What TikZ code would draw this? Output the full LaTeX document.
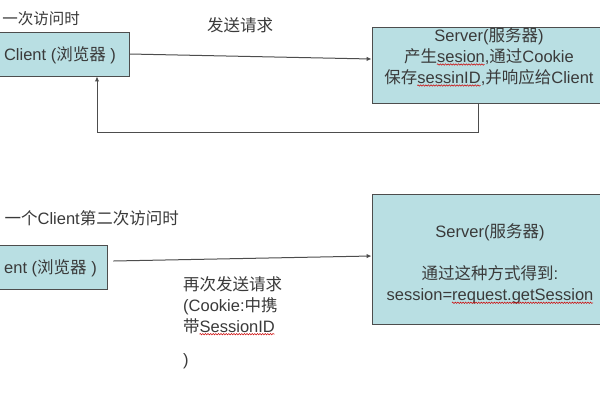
\documentclass[tikz,border=0pt]{standalone}
\usepackage{fontspec}
\setmainfont{Liberation Sans}
\newfontfamily\cjk{Noto Sans CJK SC}
\usetikzlibrary{arrows.meta,decorations.pathmorphing}
\definecolor{boxfill}{HTML}{B9DFE3}
\definecolor{ink}{HTML}{3A3A3A}
\definecolor{edge}{HTML}{4D4D4D}
\newsavebox\spellbox
\newcommand\spellmark[1]{\sbox\spellbox{#1}\usebox\spellbox\llap{\raisebox{-3pt}{\tikz[x=1pt,y=1pt]\draw[red!80!black,line width=0.5pt,decorate,decoration={snake,amplitude=0.7pt,segment length=2.6pt}] (0,0)--(\the\wd\spellbox,0);}}}
\begin{document}
\begin{tikzpicture}[x=1pt,y=-1pt,
  box/.style={draw=edge,line width=0.9pt,fill=boxfill,inner sep=0pt},
  txt/.style={text=ink,font=\fontsize{16.5}{21}\selectfont,inner sep=0pt},
  head/.style={text=ink,font=\fontsize{15.5}{20}\selectfont,inner sep=0pt},
  conn/.style={draw=edge,line width=1pt},
  tip/.style={-{Latex[length=5pt,width=4.5pt]}}]
\clip (0,0) rectangle (600,400);
\fill[white] (0,0) rectangle (600,400);
% first visit
\node[head,anchor=east] (h1) at (80,19) {{\cjk 一次访问时}};
\node[box,minimum width=140pt,minimum height=44pt] (c1) at (59,54) {};
\node[txt] (c1t) at (60,55) {Client ({\cjk 浏览器} )};
\node[box,minimum width=234pt,minimum height=76pt] (s1) at (489,65) {};
\node[txt,align=center] (s1t) at (489,57) {Server({\cjk 服务器})\\{\cjk 产生}\spellmark{sesion},{\cjk 通过}Cookie\\{\cjk 保存}\spellmark{sessinID},{\cjk 并响应给}Client};
\node[txt] (l1) at (240,25) {{\cjk 发送请求}};
\draw[conn,tip] (c1.east) -- ([yshift=6pt]s1.west);
\coordinate (r1) at (478,132);
\coordinate (r2) at (97,132);
\draw[conn,tip] (s1.south -| r1) -- (r1) -- (r2) -- (c1.south -| r2);
% second visit
\node[txt,anchor=east] (h2) at (179,218) {{\cjk 一个}Client{\cjk 第二次访问时}};
\node[box,minimum width=140pt,minimum height=44pt] (c2) at (37,267) {};
\node[txt,anchor=east] (c2t) at (97,268) {ent ({\cjk 浏览器} )};
\node[box,minimum width=246pt,minimum height=130pt] (s2) at (495,259) {};
\node[txt,align=center] (s2t) at (490,264) {Server({\cjk 服务器})\\[21pt]{\cjk 通过这种方式得到}:\\session=\spellmark{request.getSession}};
\draw[conn,tip] ([xshift=6pt,yshift=6pt]c2.east) -- ([yshift=3pt]s2.west);
\node[txt,align=left,anchor=north west] (l2) at (183,276) {{\cjk 再次发送请求}\\(Cookie:{\cjk 中携}\\{\cjk 带}\spellmark{SessionID}\\[12pt])};
\end{tikzpicture}
\end{document}
